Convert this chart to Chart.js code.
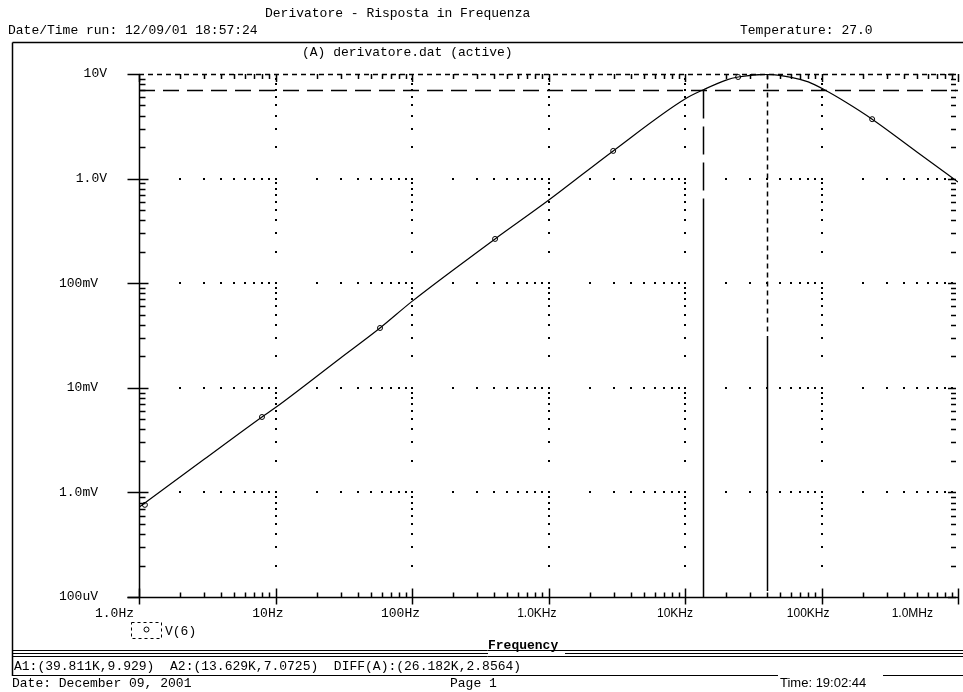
<!DOCTYPE html>
<html lang="it">
<head>
<meta charset="UTF-8">
<title>Derivatore - Risposta in Frequenza</title>
<script src="https://cdn.jsdelivr.net/npm/chart.js"></script>
<style>
  html, body { margin: 0; padding: 0; background: #fff; overflow: hidden; }
  canvas { display: block; }
</style>
</head>
<body>
<canvas id="grafico" width="963" height="692"></canvas>
<script>
// V(6) in funzione della frequenza
const freq = [1, 3, 7.96, 10, 30, 58.3, 100, 300, 406, 1000, 2978, 10000, 13629, 20000, 24500, 39811, 60000, 80000, 105000, 150000, 235000, 500000, 1000000];
const vout = [0.00072, 0.00207, 0.00526, 0.00647, 0.0193, 0.0373, 0.067, 0.198, 0.265, 0.62, 1.84, 5.77, 7.07, 8.75, 9.36, 9.93, 9.3, 8.4, 7.07, 5.4, 3.7, 1.8, 0.93];

// simboli sulla traccia
const markerFreq = [1.105, 7.96, 58.3, 406, 2978, 24500, 235000];
const markerV = [0.00076, 0.00526, 0.0373, 0.265, 1.84, 9.36, 3.7];

const xTicks = [1, 10, 100, 1e3, 1e4, 1e5, 1e6];
const xLabels = ['1.0Hz', '10Hz', '100Hz', '1.0KHz', '10KHz', '100KHz', '1.0MHz'];
const yTicks = [10, 1, 0.1, 0.01, 0.001, 0.0001];
const yLabels = ['10V', '1.0V', '100mV', '10mV', '1.0mV', '100uV'];

// cursori (frequenza, valore)
const cursorA1 = [39811, 9.929];
const cursorA2 = [13629, 7.0725];

const MONO = '"Liberation Mono", "DejaVu Sans Mono", monospace';
const SANS = '"Liberation Sans", Arial, sans-serif';

function minori(lo, hi) {
    const out = [];
    for (let d = lo; d < hi * 0.999; d *= 10) {
        for (let k = 2; k <= 9; k++) out.push(d * k);
    }
    return out;
}
const minX = minori(1, 1e6);
const minY = minori(1e-4, 10);

function linea(ctx, x1, y1, x2, y2) {
    ctx.beginPath();
    ctx.moveTo(x1, y1);
    ctx.lineTo(x2, y2);
    ctx.stroke();
}

const disegno = {
    id: 'disegno',
    beforeDatasetsDraw(chart) {
        const { ctx, chartArea: a, scales: { x, y } } = chart;
        ctx.save();
        ctx.fillStyle = '#000';
        // griglia a punti
        for (const yt of yTicks.slice(1, -1)) {
            const py = Math.round(y.getPixelForValue(yt));
            for (const m of minX.concat(xTicks)) {
                const px = Math.round(x.getPixelForValue(m));
                if (px > a.left + 3 && px < a.right - 3) ctx.fillRect(px - 1, py - 1, 2, 2);
            }
        }
        for (const xt of xTicks.slice(1, -1)) {
            const px = Math.round(x.getPixelForValue(xt));
            for (const m of minY.concat(yTicks)) {
                const py = Math.round(y.getPixelForValue(m));
                if (py > a.top + 3 && py < a.bottom - 3) ctx.fillRect(px - 1, py - 1, 2, 2);
            }
        }

        ctx.strokeStyle = '#000';
        ctx.lineWidth = 1.5;
        // cursore A2
        const a2x = Math.round(x.getPixelForValue(cursorA2[0])) + 0.5;
        const a2y = Math.round(y.getPixelForValue(cursorA2[1])) + 0.5;
        ctx.setLineDash([16, 8]);
        linea(ctx, a.left, a2y, a.right, a2y);
        ctx.setLineDash([28, 8]);
        linea(ctx, a2x, a2y, a2x, 200);
        ctx.setLineDash([]);
        linea(ctx, a2x, 200, a2x, a.bottom);

        // cursore A1
        const a1x = Math.round(x.getPixelForValue(cursorA1[0])) + 0.5;
        const a1y = Math.round(y.getPixelForValue(cursorA1[1])) + 0.5;
        ctx.setLineDash([5, 4]);
        linea(ctx, a.left, a1y, a.right, a1y);
        linea(ctx, a1x, a1y, a1x, 332);
        ctx.setLineDash([]);
        linea(ctx, a1x, 336, a1x, a.bottom - 6);
        ctx.restore();
    },
    afterDraw(chart) {
        const { ctx, chartArea: a, scales: { x, y } } = chart;
        ctx.save();
        ctx.strokeStyle = '#000';
        ctx.fillStyle = '#000';
        ctx.lineWidth = 1.5;
        const L = a.left + 0.5, B = a.bottom + 0.5, T = a.top, R = a.right - 2;

        // assi
        linea(ctx, L, T, L, B);
        linea(ctx, L - 12, B, a.right, B);
        for (const m of minY) {
            const py = Math.round(y.getPixelForValue(m)) + 0.5;
            linea(ctx, L, py, L + 6, py);
            linea(ctx, R - 5, py, R, py);
        }
        for (const t of yTicks) {
            const py = Math.round(y.getPixelForValue(t)) + 0.5;
            linea(ctx, L - 12, py, t === 10 || t === 1e-4 ? L : L + 9, py);
            linea(ctx, R - 8, py, R, py);
        }
        for (const m of minX) {
            const px = Math.round(x.getPixelForValue(m)) + 0.5;
            linea(ctx, px, B, px, B - 5);
            linea(ctx, px, T, px, T + 5);
        }
        for (const t of xTicks) {
            const px = Math.round(x.getPixelForValue(t)) + 0.5;
            linea(ctx, px, B + 7, px, B - 9);
            linea(ctx, px, T, px, T + 8);
        }

        // etichette degli assi
        ctx.textBaseline = 'middle';
        ctx.textAlign = 'right';
        ctx.font = '13px ' + MONO;
        yTicks.forEach((t, i) => {
            const py = y.getPixelForValue(t);
            const xr = yLabels[i].match(/[mu]V/) ? 98 : 107;
            ctx.fillText(yLabels[i], xr, py);
        });
        xTicks.forEach((t, i) => {
            const lab = xLabels[i];
            ctx.font = /[KM]/.test(lab) ? '12px ' + SANS : '13px ' + MONO;
            let xr = x.getPixelForValue(t) + 8;
            if (i === 0) xr = x.getPixelForValue(t) - 5;
            if (xr > 933) xr = 933;
            ctx.fillText(lab, xr, 614);
        });

        // intestazione
        ctx.textAlign = 'left';
        ctx.font = '13px ' + MONO;
        ctx.fillText('Derivatore - Risposta in Frequenza', 265, 14);
        ctx.fillText('Date/Time run: 12/09/01 18:57:24', 8, 31);
        ctx.fillText('Temperature: 27.0', 740, 31);
        ctx.fillText('(A) derivatore.dat (active)', 302, 53);

        // cornice
        ctx.lineWidth = 1.5;
        linea(ctx, 12.5, 42.5, 963, 42.5);
        linea(ctx, 12.5, 42.5, 12.5, 676);

        // legenda
        ctx.lineWidth = 1;
        ctx.setLineDash([3, 3]);
        ctx.strokeRect(131.5, 622.5, 30, 16);
        ctx.setLineDash([]);
        ctx.beginPath();
        ctx.arc(146.5, 629.5, 2.5, 0, Math.PI * 2);
        ctx.stroke();
        ctx.fillText('V(6)', 165, 632);

        // titolo asse x e linee in basso
        ctx.font = 'bold 13px ' + MONO;
        ctx.fillText('Frequency', 488, 646);
        ctx.lineWidth = 1;
        linea(ctx, 12, 650.5, 963, 650.5);
        linea(ctx, 12, 653.5, 488, 653.5);
        linea(ctx, 565, 653.5, 963, 653.5);
        linea(ctx, 12, 656.5, 963, 656.5);

        ctx.font = '13px ' + MONO;
        ctx.fillText('A1:(39.811K,9.929)  A2:(13.629K,7.0725)  DIFF(A):(26.182K,2.8564)', 14, 667);
        linea(ctx, 12, 675.5, 778, 675.5);
        linea(ctx, 883, 675.5, 963, 675.5);
        ctx.fillText('Date: December 09, 2001', 12, 684);
        ctx.fillText('Page 1', 450, 684);
        ctx.font = '13px ' + SANS;
        ctx.fillText('Time: 19:02:44', 780, 683);
        ctx.restore();
    }
};

const ctx = document.getElementById('grafico').getContext('2d');

const grafico = new Chart(ctx, {
    type: 'line',
    data: {
        datasets: [{
            label: 'V(6)',
            data: freq.map((f, i) => ({ x: f, y: vout[i] })),
            borderColor: '#000',
            borderWidth: 1.2,
            pointRadius: 0,
            cubicInterpolationMode: 'monotone',
            fill: false
        }, {
            label: 'simboli',
            data: markerFreq.map((f, i) => ({ x: f, y: markerV[i] })),
            showLine: false,
            pointStyle: 'circle',
            pointRadius: 2.5,
            pointBackgroundColor: '#fff',
            pointBorderColor: '#000',
            pointBorderWidth: 1
        }]
    },
    options: {
        responsive: false,
        animation: false,
        devicePixelRatio: 1,
        layout: { padding: { left: 139, top: 74, right: 0, bottom: 95 } },
        scales: {
            x: { type: 'logarithmic', min: 1, max: 1e6, display: false },
            y: { type: 'logarithmic', min: 1e-4, max: 10, display: false }
        },
        plugins: {
            legend: { display: false },
            tooltip: { enabled: false }
        }
    },
    plugins: [disegno]
});
</script>
</body>
</html>
